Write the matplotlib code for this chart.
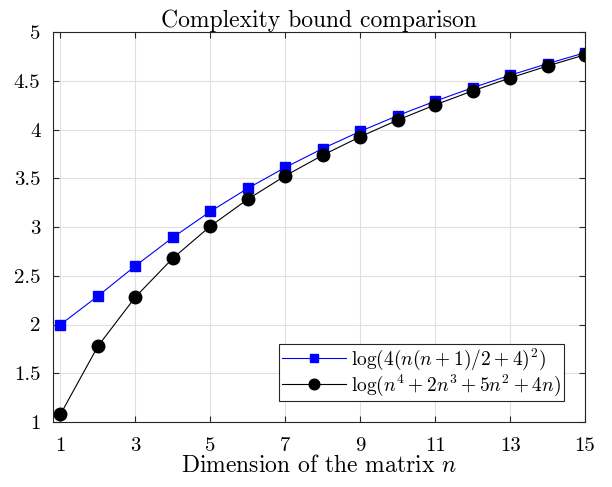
import matplotlib
matplotlib.use('Agg')
import matplotlib.pyplot as plt

plt.rcParams['font.family'] = 'serif'
plt.rcParams['font.serif'] = ['cmr10']
plt.rcParams['mathtext.fontset'] = 'cm'
plt.rcParams['axes.formatter.use_mathtext'] = True

# dimension n
n = [1, 2, 3, 4, 5, 6, 7, 8, 9, 10, 11, 12, 13, 14, 15]
# log(4(n(n+1)/2+4)^2)
bound_a = [2.000, 2.292, 2.602, 2.894, 3.160, 3.398, 3.612, 3.806,
           3.982, 4.144, 4.292, 4.430, 4.558, 4.677, 4.789]
# log(n^4+2n^3+5n^2+4n)
bound_b = [1.079, 1.778, 2.283, 2.681, 3.009, 3.286, 3.526, 3.738,
           3.927, 4.098, 4.254, 4.397, 4.530, 4.653, 4.768]

xticks = [1, 3, 5, 7, 9, 11, 13, 15]
yticks = [1, 1.5, 2, 2.5, 3, 3.5, 4, 4.5, 5]
ylabels = ['1', '1.5', '2', '2.5', '3', '3.5', '4', '4.5', '5']

fig = plt.figure(figsize=(6.12, 4.87), dpi=100)
ax = fig.add_axes([0.0866, 0.1335, 0.8694, 0.8005])

ax.plot(n, bound_a, '-s', color='blue', mfc='blue', mec='blue', ms=7.5, lw=0.8,
        label=r'$\log(4(n(n+1)/2+4)^2)$')
ax.plot(n, bound_b, '-o', color='black', mfc='black', mec='black', ms=9, lw=0.8,
        label=r'$\log(n^4+2n^3+5n^2+4n)$')

ax.set_xlim(0.8, 15)
ax.set_ylim(1, 5)
ax.set_xticks(xticks)
ax.set_xticklabels([str(x) for x in xticks])
ax.set_yticks(yticks)
ax.set_yticklabels(ylabels)
ax.grid(True, color='0.88', lw=0.8)
ax.set_axisbelow(True)
ax.tick_params(direction='in', top=True, right=True, labelsize=15, colors='0.15',
               length=4, width=0.8)
ax.tick_params(axis='x', pad=11)
ax.tick_params(axis='y', pad=9)
for s in ax.spines.values():
    s.set_color('0.15')
    s.set_linewidth(0.8)
for lab in ax.get_xticklabels() + ax.get_yticklabels():
    lab.set_color('black')

ax.set_title('Complexity bound comparison', fontsize=17, pad=4)
ax.set_xlabel(r'Dimension of the matrix $n$', fontsize=17, labelpad=0)

leg = ax.legend(loc='lower right', fontsize=14, fancybox=False, framealpha=1,
                edgecolor='0.15', borderpad=0.15, handlelength=3.3,
                handletextpad=0.25, labelspacing=0.0, borderaxespad=1.1,
                markerscale=0.85)
leg.get_frame().set_linewidth(0.8)

fig.savefig('out.png', dpi=100)
